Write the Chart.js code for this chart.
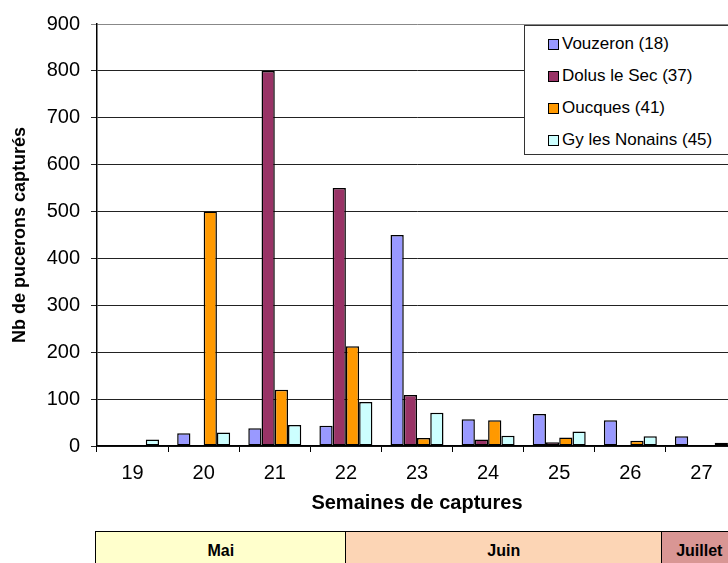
<!DOCTYPE html>
<html>
<head>
<meta charset="utf-8">
<script src="https://cdn.jsdelivr.net/npm/chart.js@4"></script>
<style>
  html, body { margin: 0; padding: 0; background: #fff; overflow: hidden; }
  #page { position: relative; width: 728px; height: 563px; overflow: hidden; font-family: "Liberation Sans", Arial, sans-serif; }
  #wrap { position: absolute; left: 0; top: 0; width: 740px; height: 525px; }
  #legend { position: absolute; left: 524px; top: 25px; width: 215px; height: 130px; border: 1.5px solid #333; background: #fff; box-sizing: border-box; }
  .item { position: absolute; left: 23px; height: 20px; line-height: 20px; font-size: 17px; color: #000; white-space: nowrap; }
  .item span.box { position: absolute; left: 0; top: 5px; width: 9px; height: 9px; border: 1.5px solid #000; }
  .item span.txt { position: absolute; left: 14px; top: 0; }
  .month { position: absolute; top: 531px; height: 40px; border: 1.5px solid #000; box-sizing: border-box; font-weight: bold; font-size: 16px; text-align: center; line-height: 37px; color: #000; }
</style>
</head>
<body>
<div id="page">
  <div id="wrap"><canvas id="chart-aphids"></canvas></div>
  <div id="legend"></div>
  <div id="months"></div>
</div>
<script>
// Semaines de captures
const weeks = ['19', '20', '21', '22', '23', '24', '25', '26', '27'];

// Nb de pucerons capturés par site
const vouzeron   = [0, 27, 38, 43, 450, 57, 68, 55, 21];
const dolusLeSec = [0, 0, 800, 550, 109, 14, 8, 0, 0];
const oucques    = [0, 500, 120, 213, 17, 55, 18, 11, 2];
const gyNonains  = [14, 29, 45, 94, 71, 22, 31, 21, 7];

const siteLabels = ['Vouzeron (18)', 'Dolus le Sec (37)', 'Oucques (41)', 'Gy les Nonains (45)'];
const siteColors = ['#9999FF', '#993366', '#FF9900', '#CCFFFF'];

const months = ['Mai', 'Juin', 'Juillet'];
const monthColors = ['#FFFFCC', '#FCD5B5', '#D99694'];

const FONT = '"Liberation Sans", Arial, sans-serif';

const seriesData = [vouzeron, dolusLeSec, oucques, gyNonains];

new Chart(document.getElementById('chart-aphids'), {
  type: 'bar',
  data: {
    labels: weeks,
    datasets: seriesData.map((d, i) => ({
      label: siteLabels[i],
      data: d,
      backgroundColor: siteColors[i],
      borderColor: '#000',
      // no outline for empty weeks
      borderWidth: c => (c.raw ? 1.5 : 0),
      borderSkipped: false,
      categoryPercentage: 0.745,
      barPercentage: 1
    }))
  },
  options: {
    responsive: true,
    maintainAspectRatio: false,
    animation: false,
    layout: { padding: { top: 24, right: 3, left: 0, bottom: 0 } },
    plugins: {
      legend: { display: false },
      tooltip: { enabled: false }
    },
    scales: {
      x: {
        grid: { offset: true, drawOnChartArea: false, tickLength: 6, color: '#000', lineWidth: 1 },
        border: { color: '#000', width: 1.5 },
        ticks: { color: '#000', font: { family: FONT, size: 20 }, padding: 9 },
        title: {
          display: true,
          text: 'Semaines de captures',
          color: '#000',
          font: { family: FONT, size: 20, weight: 'bold' },
          padding: { top: 0, bottom: 10 }
        },
        afterFit: s => { s.height = 79; }
      },
      y: {
        min: 0,
        max: 900,
        ticks: { stepSize: 100, color: '#000', font: { family: FONT, size: 20 }, padding: 11 },
        grid: {
          color: c => (c.tick && c.tick.value === 900 ? '#888' : '#222'),
          lineWidth: 1,
          tickLength: 6
        },
        border: { color: '#000', width: 1.5 },
        title: {
          display: true,
          text: 'Nb de pucerons capturés',
          color: '#000',
          font: { family: FONT, size: 18, weight: 'bold' },
          padding: { top: 9, bottom: 0 }
        },
        afterFit: s => { s.width = 97; }
      }
    }
  }
});

// Legend box
const legend = document.getElementById('legend');
siteLabels.forEach((lab, i) => {
  const it = document.createElement('div');
  it.className = 'item';
  it.style.top = (8 + i * 32) + 'px';
  it.innerHTML = '<span class="box" style="background:' + siteColors[i] + '"></span><span class="txt"></span>';
  it.querySelector('.txt').textContent = lab;
  legend.appendChild(it);
});

// Month band under the chart
const monthEdges = [95, 345, 661, 736];
const monthsDiv = document.getElementById('months');
months.forEach((m, i) => {
  const d = document.createElement('div');
  d.className = 'month';
  d.style.left = monthEdges[i] + 'px';
  d.style.width = (monthEdges[i + 1] - monthEdges[i] + 1.5) + 'px';
  d.style.background = monthColors[i];
  d.textContent = m;
  monthsDiv.appendChild(d);
});
</script>
</body>
</html>
